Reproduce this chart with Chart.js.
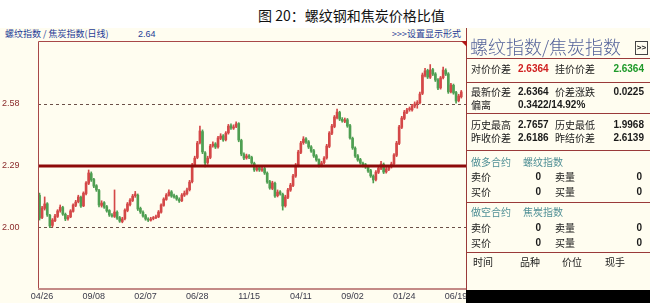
<!DOCTYPE html>
<html>
<head>
<meta charset="utf-8">
<script src="https://cdn.jsdelivr.net/npm/chart.js@4.4.1/dist/chart.umd.min.js"></script>
<style>
  body { margin: 0; width: 650px; height: 303px; background: #fff; position: relative; overflow: hidden;
         font-family: "Noto Sans CJK SC", sans-serif; }
  .abs { position: absolute; white-space: nowrap; }
  #title { left: 258px; top: 4px; font-size: 14px; line-height: 22px; color: #111; }
  #win { left: 0; top: 28px; width: 650px; height: 275px; background: #fffdf0; }
  .hdr { font-size: 9px; line-height: 12px; color: #1e3c96; top: 28px; }
  #chartBox { left: 0; top: 40px; width: 467px; height: 263px; }
  #panel { left: 466px; top: 28px; width: 184px; height: 262px; background: #fffdf0;
           border-left: 1px solid #9a3a3a; box-sizing: border-box; z-index: 2; }
  .hl { position: absolute; left: 466px; width: 184px; height: 1px; background: #9a3a3a; z-index: 3; }
  .t { position: absolute; white-space: nowrap; font-size: 10px; line-height: 14px; color: #1a1a1a; z-index: 3; }
  .v { font-family: "Liberation Sans", Arial, sans-serif; font-weight: bold; font-size: 10px; }
  .r { text-align: right; }
  .teal { color: #4f8f95; }
  #bar { left: 466px; top: 290px; width: 184px; height: 13px; background: #000; z-index: 4; }
  #tri { left: 461px; top: 41px; width: 0; height: 0; border-top: 6px solid #b01818; border-left: 6px solid transparent; z-index: 3; }
</style>
</head>
<body>
<div id="title" class="abs">图 20：螺纹钢和焦炭价格比值</div>
<div id="win" class="abs"></div>
<div class="abs hdr" style="left:5px;">螺纹指数 / 焦炭指数(日线)</div>
<div class="abs hdr" style="left:138px;font-family:'Liberation Sans',sans-serif;">2.64</div>
<div class="abs hdr" style="left:392px;">&gt;&gt;&gt;设置显示形式</div>
<div id="chartBox" class="abs"><canvas id="chart" width="467" height="263"></canvas></div>

<div id="panel" class="abs"></div>
<div id="tri" class="abs"></div>
<div class="t" style="left:470px;top:34px;font-size:18px;line-height:24px;font-weight:300;color:#55639a;">螺纹指数/焦炭指数</div>
<div class="t v" style="left:635px;top:41px;width:11px;height:12px;line-height:11px;font-size:8px;border:1px solid #444;text-align:center;">&gt;&gt;</div>
<div class="hl" style="top:58px;"></div>
<div class="hl" style="top:82px;"></div>
<div class="hl" style="top:113px;"></div>
<div class="hl" style="top:150px;"></div>
<div class="hl" style="top:202px;"></div>
<div class="hl" style="top:252px;"></div>

<div class="t" style="left:471px;top:62px;">对价价差</div>
<div class="t v" style="left:518px;top:62px;color:#d02020;">2.6364</div>
<div class="t" style="left:555px;top:62px;">挂价价差</div>
<div class="t v r" style="left:600px;width:44px;top:62px;color:#1f9a2a;">2.6364</div>

<div class="t" style="left:471px;top:85px;">最新价差</div>
<div class="t v" style="left:518px;top:85px;">2.6364</div>
<div class="t" style="left:555px;top:85px;">价差涨跌</div>
<div class="t v r" style="left:600px;width:44px;top:85px;">0.0225</div>
<div class="t" style="left:471px;top:98px;">偏离</div>
<div class="t v" style="left:518px;top:98px;">0.3422/14.92%</div>

<div class="t" style="left:471px;top:118px;">历史最高</div>
<div class="t v" style="left:518px;top:118px;">2.7657</div>
<div class="t" style="left:555px;top:118px;">历史最低</div>
<div class="t v r" style="left:600px;width:44px;top:118px;">1.9968</div>
<div class="t" style="left:471px;top:131px;">昨收价差</div>
<div class="t v" style="left:518px;top:131px;">2.6186</div>
<div class="t" style="left:555px;top:131px;">昨结价差</div>
<div class="t v r" style="left:600px;width:44px;top:131px;">2.6139</div>

<div class="t teal" style="left:471px;top:155px;">做多合约</div>
<div class="t teal" style="left:523px;top:155px;">螺纹指数</div>
<div class="t" style="left:471px;top:170px;">卖价</div>
<div class="t v r" style="left:520px;width:21px;top:170px;">0</div>
<div class="t" style="left:555px;top:170px;">卖量</div>
<div class="t v r" style="left:620px;width:22px;top:170px;">0</div>
<div class="t" style="left:471px;top:185px;">买价</div>
<div class="t v r" style="left:520px;width:21px;top:185px;">0</div>
<div class="t" style="left:555px;top:185px;">买量</div>
<div class="t v r" style="left:620px;width:22px;top:185px;">0</div>

<div class="t teal" style="left:471px;top:205px;">做空合约</div>
<div class="t teal" style="left:523px;top:205px;">焦炭指数</div>
<div class="t" style="left:471px;top:221px;">卖价</div>
<div class="t v r" style="left:520px;width:21px;top:221px;">0</div>
<div class="t" style="left:555px;top:221px;">卖量</div>
<div class="t v r" style="left:620px;width:22px;top:221px;">0</div>
<div class="t" style="left:471px;top:236px;">买价</div>
<div class="t v r" style="left:520px;width:21px;top:236px;">0</div>
<div class="t" style="left:555px;top:236px;">买量</div>
<div class="t v r" style="left:620px;width:22px;top:236px;">0</div>

<div class="t" style="left:473px;top:255px;">时间</div>
<div class="t" style="left:520px;top:255px;">品种</div>
<div class="t" style="left:562px;top:255px;">价位</div>
<div class="t" style="left:605px;top:255px;">现手</div>
<div id="bar" class="abs"></div>

<script>
// daily candles of the rebar / coke index ratio
const opens = [
  2.150,2.045,2.088,2.110,2.055,2.008,2.030,2.050,2.078,2.092,
  2.060,2.040,2.048,2.074,2.102,2.120,2.140,2.100,2.158,2.206,
  2.252,2.224,2.195,2.172,2.102,2.115,2.096,2.078,2.055,2.050,
  2.070,2.044,2.026,2.040,2.078,2.106,2.125,2.148,2.150,2.088,
  2.070,2.054,2.036,2.032,2.040,2.044,2.048,2.070,2.102,2.130,
  2.150,2.166,2.148,2.144,2.130,2.124,2.150,2.158,2.176,2.214,
  2.290,2.328,2.398,2.450,2.350,2.304,2.328,2.384,2.392,2.378,
  2.418,2.430,2.412,2.444,2.478,2.466,2.474,2.488,2.408,2.342,
  2.326,2.336,2.328,2.300,2.270,2.280,2.268,2.276,2.254,2.214,
  2.182,2.206,2.148,2.166,2.154,2.100,2.140,2.174,2.196,2.240,
  2.290,2.352,2.398,2.416,2.402,2.378,2.360,2.336,2.318,2.290,
  2.304,2.326,2.380,2.442,2.474,2.516,2.540,2.508,2.498,2.506,
  2.478,2.418,2.372,2.336,2.318,2.300,2.294,2.282,2.266,2.240,
  2.224,2.258,2.276,2.296,2.260,2.272,2.284,2.298,2.338,2.394,
  2.470,2.512,2.540,2.554,2.552,2.570,2.582,2.586,2.630,2.715,
  2.738,2.706,2.742,2.722,2.694,2.656,2.704,2.738,2.722,2.638,
  2.668,2.634,2.596,2.614
];
const closes = [
  2.042,2.090,2.109,2.057,2.005,2.033,2.052,2.076,2.094,2.061,
  2.038,2.047,2.076,2.104,2.118,2.142,2.099,2.160,2.208,2.255,
  2.222,2.193,2.175,2.104,2.113,2.094,2.076,2.057,2.052,2.071,
  2.042,2.028,2.038,2.080,2.109,2.127,2.146,2.156,2.085,2.071,
  2.052,2.038,2.033,2.038,2.042,2.047,2.071,2.104,2.132,2.151,
  2.165,2.146,2.142,2.132,2.123,2.151,2.160,2.175,2.212,2.292,
  2.325,2.396,2.453,2.354,2.302,2.325,2.382,2.391,2.377,2.420,
  2.429,2.410,2.443,2.476,2.467,2.472,2.486,2.410,2.344,2.325,
  2.335,2.330,2.302,2.269,2.278,2.269,2.274,2.255,2.212,2.184,
  2.208,2.146,2.165,2.156,2.099,2.142,2.175,2.198,2.241,2.292,
  2.354,2.396,2.415,2.401,2.377,2.358,2.335,2.316,2.292,2.302,
  2.325,2.382,2.443,2.476,2.519,2.542,2.509,2.500,2.505,2.476,
  2.420,2.373,2.335,2.316,2.302,2.292,2.283,2.264,2.241,2.222,
  2.259,2.278,2.297,2.259,2.274,2.283,2.297,2.340,2.396,2.472,
  2.514,2.542,2.552,2.556,2.571,2.580,2.585,2.627,2.717,2.736,
  2.707,2.740,2.721,2.693,2.655,2.703,2.740,2.721,2.637,2.670,
  2.632,2.594,2.618,2.637
];
const highs = [
  2.160,2.098,2.142,2.115,2.060,2.040,2.060,2.082,2.104,2.098,
  2.066,2.055,2.082,2.110,2.126,2.150,2.146,2.166,2.214,2.269,
  2.260,2.230,2.200,2.178,2.124,2.120,2.102,2.082,2.064,2.175,
  2.076,2.050,2.046,2.086,2.116,2.134,2.154,2.168,2.156,2.094,
  2.076,2.060,2.044,2.046,2.050,2.056,2.078,2.110,2.138,2.158,
  2.176,2.172,2.156,2.150,2.138,2.158,2.170,2.184,2.220,2.300,
  2.334,2.404,2.476,2.458,2.356,2.334,2.390,2.402,2.398,2.428,
  2.440,2.436,2.450,2.484,2.486,2.482,2.496,2.492,2.414,2.350,
  2.344,2.342,2.334,2.306,2.288,2.286,2.284,2.282,2.260,2.220,
  2.216,2.212,2.175,2.172,2.160,2.150,2.182,2.206,2.248,2.300,
  2.362,2.404,2.426,2.422,2.408,2.384,2.366,2.342,2.322,2.310,
  2.332,2.390,2.450,2.484,2.526,2.556,2.546,2.516,2.514,2.512,
  2.484,2.424,2.378,2.342,2.324,2.306,2.300,2.288,2.272,2.246,
  2.266,2.286,2.310,2.302,2.282,2.290,2.306,2.346,2.404,2.480,
  2.522,2.550,2.560,2.566,2.578,2.590,2.596,2.636,2.726,2.748,
  2.744,2.766,2.748,2.728,2.700,2.710,2.754,2.746,2.728,2.678,
  2.674,2.640,2.626,2.644
];
const lows = [
  2.033,2.040,2.080,2.050,1.997,2.000,2.025,2.045,2.070,2.055,
  2.030,2.033,2.044,2.070,2.096,2.114,2.092,2.096,2.152,2.200,
  2.215,2.186,2.168,2.095,2.094,2.088,2.070,2.050,2.046,2.045,
  2.036,2.022,2.020,2.034,2.072,2.100,2.120,2.140,2.078,2.064,
  2.046,2.032,2.026,2.028,2.034,2.040,2.044,2.066,2.098,2.126,
  2.146,2.140,2.136,2.126,2.116,2.120,2.144,2.152,2.170,2.208,
  2.284,2.322,2.392,2.346,2.283,2.296,2.322,2.376,2.370,2.372,
  2.412,2.404,2.406,2.438,2.460,2.460,2.468,2.402,2.336,2.318,
  2.320,2.322,2.296,2.262,2.264,2.262,2.262,2.248,2.206,2.178,
  2.176,2.140,2.142,2.150,2.080,2.094,2.134,2.168,2.190,2.234,
  2.284,2.346,2.390,2.394,2.370,2.352,2.328,2.310,2.283,2.284,
  2.298,2.320,2.374,2.436,2.468,2.510,2.502,2.494,2.492,2.470,
  2.414,2.366,2.328,2.310,2.296,2.284,2.276,2.258,2.234,2.208,
  2.218,2.252,2.270,2.252,2.254,2.266,2.278,2.292,2.332,2.388,
  2.464,2.506,2.534,2.546,2.546,2.562,2.560,2.580,2.624,2.708,
  2.700,2.700,2.714,2.686,2.648,2.650,2.698,2.714,2.630,2.632,
  2.626,2.584,2.590,2.608
];

// date labels and where they sit along the candles
const xTickIndex = [1, 21, 41, 61, 81, 101, 121, 141, 161];
const xTickLabels = ['04/26', '09/08', '02/07', '06/28', '11/15', '04/11', '09/02', '01/24', '06/19'];
const yTickValues = [2.00, 2.29, 2.58];
const dashedLevels = [2.00, 2.58];
const mainLevel = 2.29;

const upColor = '#d44848';
const downColor = '#4f9f52';
const candleColor = (ctx) => closes[ctx.dataIndex] >= opens[ctx.dataIndex] ? upColor : downColor;

const wickData = highs.map((h, i) => ({ x: i, y: [lows[i], h] }));
const bodyData = opens.map((o, i) => ({ x: i, y: [o, closes[i]] }));

const levelLines = {
  id: 'levelLines',
  beforeDatasetsDraw(chart) {
    const { ctx, chartArea: a, scales: { y } } = chart;
    ctx.save();
    ctx.strokeStyle = '#6b5048';
    ctx.lineWidth = 1;
    ctx.setLineDash([3, 3]);
    dashedLevels.forEach(v => {
      const py = Math.round(y.getPixelForValue(v)) + 0.5;
      ctx.beginPath();
      ctx.moveTo(a.left, py);
      ctx.lineTo(a.right, py);
      ctx.stroke();
    });
    ctx.restore();
  },
  afterDatasetsDraw(chart) {
    const { ctx, chartArea: a, scales: { y } } = chart;
    ctx.save();
    // heavy line at the middle level
    const py = Math.round(y.getPixelForValue(mainLevel));
    ctx.strokeStyle = '#8e0a0a';
    ctx.lineWidth = 3;
    ctx.beginPath();
    ctx.moveTo(a.left, py);
    ctx.lineTo(a.right, py);
    ctx.stroke();
    // plot frame
    ctx.strokeStyle = '#a84848';
    ctx.lineWidth = 1;
    ctx.beginPath();
    ctx.moveTo(a.right, a.top + 0.5);
    ctx.lineTo(a.left + 0.5, a.top + 0.5);
    ctx.lineTo(a.left + 0.5, a.bottom);
    ctx.stroke();
    ctx.strokeStyle = '#c48a86';
    ctx.lineWidth = 2;
    ctx.beginPath();
    ctx.moveTo(a.left, a.bottom);
    ctx.lineTo(a.right, a.bottom);
    ctx.stroke();
    ctx.restore();
  }
};

new Chart(document.getElementById('chart'), {
  type: 'bar',
  data: {
    datasets: [
      { data: wickData, backgroundColor: candleColor, barThickness: 1, grouped: false },
      { data: bodyData, backgroundColor: candleColor, barThickness: 2, minBarLength: 1, grouped: false }
    ]
  },
  options: {
    responsive: false,
    animation: false,
    devicePixelRatio: 1,
    layout: { padding: { left: 2, top: 1, right: 1, bottom: 0 } },
    plugins: { legend: { display: false }, tooltip: { enabled: false } },
    scales: {
      x: {
        type: 'linear',
        min: -0.58,
        max: 164.83,
        offset: false,
        grid: { display: false, drawTicks: false, tickLength: 0 },
        border: { display: false },
        afterBuildTicks: (s) => { s.ticks = xTickIndex.map(v => ({ value: v })); },
        afterFit: (s) => { s.height = 14; s.paddingLeft = 0; s.paddingRight = 0; },
        ticks: {
          autoSkip: false,
          maxRotation: 0,
          padding: 2,
          color: '#3a3a4a',
          font: { family: 'Liberation Sans', size: 9 },
          callback: (v) => xTickLabels[xTickIndex.indexOf(v)]
        }
      },
      y: {
        min: 1.708,
        max: 2.877,
        grid: { display: false, drawTicks: false, tickLength: 0 },
        border: { display: false },
        afterBuildTicks: (s) => { s.ticks = yTickValues.map(v => ({ value: v })); },
        afterFit: (s) => { s.width = 36; s.paddingTop = 0; s.paddingBottom = 0; },
        ticks: {
          crossAlign: 'far',
          color: '#8a2a2a',
          font: { family: 'Liberation Sans', size: 9 },
          callback: (v) => Number(v).toFixed(2)
        }
      }
    }
  },
  plugins: [levelLines]
});
</script>
</body>
</html>
